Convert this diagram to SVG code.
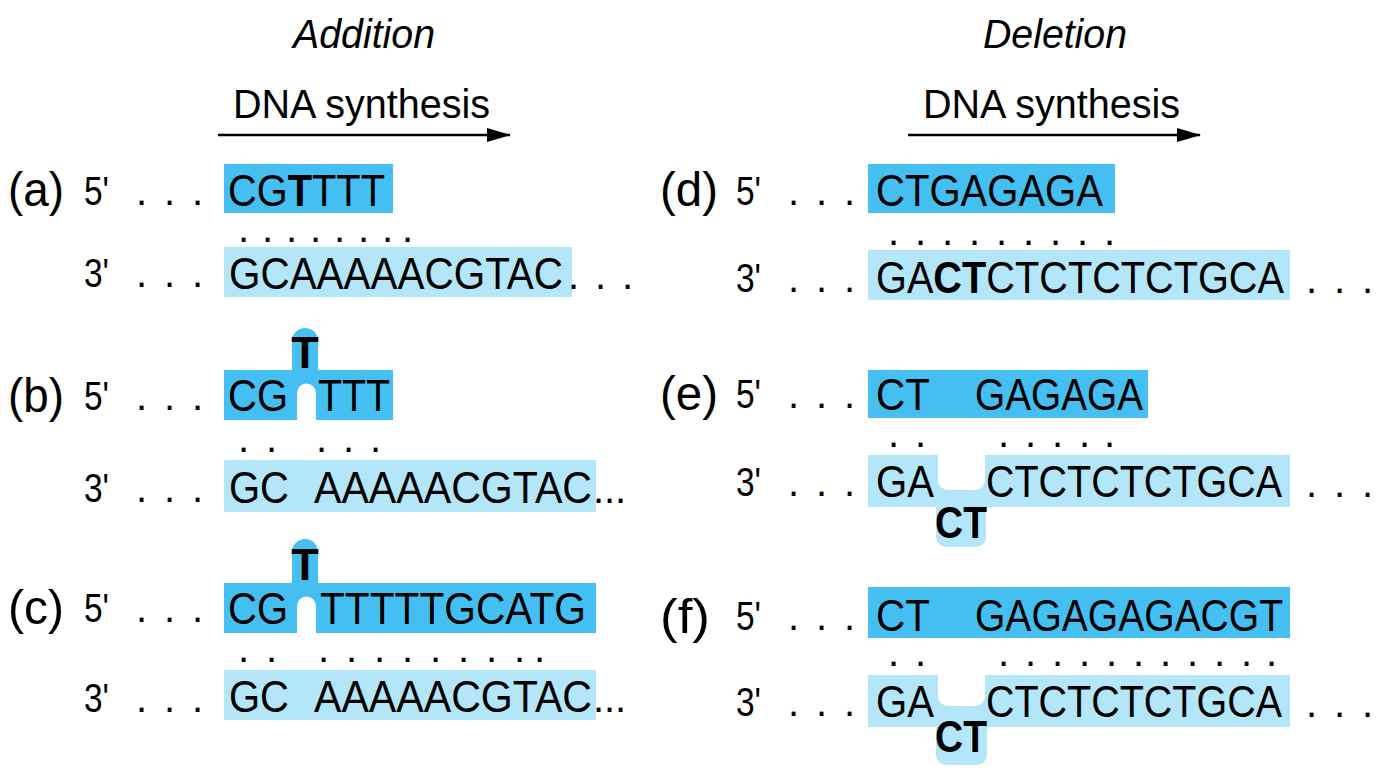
<svg xmlns="http://www.w3.org/2000/svg" width="1400" height="784" viewBox="0 0 1400 784">
<defs>
<style>
text{font-family:"Liberation Sans",Arial,sans-serif;fill:#000}
.s{font-size:45px}
.l{font-size:48px}
.p{font-size:40px}
.t{font-size:40px;font-style:italic}
.h{font-size:40px}
.b{font-weight:bold}
.dk{fill:#45BEF1}
.lt{fill:#B4E6FA}
.ar{stroke:#000;stroke-width:2.5;fill:none}
</style>
<marker id="ah" markerWidth="24" markerHeight="14" refX="23" refY="7" orient="auto" markerUnits="userSpaceOnUse" viewBox="0 0 24 14"><path d="M0,0 L24,7 L0,14 z" fill="#000"/></marker>
</defs>
<text class="t" x="293" y="48" textLength="142" lengthAdjust="spacingAndGlyphs">Addition</text>
<text class="t" x="983" y="48" textLength="144" lengthAdjust="spacingAndGlyphs">Deletion</text>
<text class="h" x="233" y="118" textLength="257" lengthAdjust="spacingAndGlyphs">DNA synthesis</text>
<text class="h" x="923" y="118" textLength="257" lengthAdjust="spacingAndGlyphs">DNA synthesis</text>
<g id="connectors">
<line class="ar" x1="218" y1="135" x2="510" y2="135" marker-end="url(#ah)"/>
<line class="ar" x1="908" y1="135" x2="1200" y2="135" marker-end="url(#ah)"/>
</g>
<g id="a">
<text class="l" x="8" y="206" textLength="56" lengthAdjust="spacingAndGlyphs">(a)</text>
<text class="p" x="84" y="205" textLength="25" lengthAdjust="spacingAndGlyphs">5'</text>
<text class="p" x="136 164 192" y="205">...</text>
<rect class="dk" x="224" y="164" width="169" height="49"/>
<text class="s" x="228" y="206" textLength="157" lengthAdjust="spacingAndGlyphs">CG<tspan class="b">T</tspan>TTT</text>
<text class="p" x="238 262 286 310 334 358 382 402" y="242">........</text>
<text class="p" x="84" y="287" textLength="25" lengthAdjust="spacingAndGlyphs">3'</text>
<text class="p" x="136 164 192" y="287">...</text>
<rect class="lt" x="224" y="247" width="348" height="50"/>
<text class="s" x="229" y="289" textLength="334" lengthAdjust="spacingAndGlyphs">GCAAAAACGTAC</text>
<text class="p" x="568 595 622" y="289">...</text>
</g>
<g id="b">
<text class="l" x="8" y="412" textLength="56" lengthAdjust="spacingAndGlyphs">(b)</text>
<text class="p" x="84" y="410" textLength="25" lengthAdjust="spacingAndGlyphs">5'</text>
<text class="p" x="136 164 192" y="410">...</text>
<path class="dk" d="M224,370 H292 V341 A13,13 0 0 1 318,341 V370 H393 V420 H316 V393 A9.5,9.5 0 0 0 297,393 V420 H224 Z"/>
<text class="s" x="228" y="411" textLength="60" lengthAdjust="spacingAndGlyphs">CG</text>
<text class="s b" x="305" y="368" text-anchor="middle">T</text>
<text class="s" x="318" y="411" textLength="72" lengthAdjust="spacingAndGlyphs">TTT</text>
<text class="p" x="238 266 316 343 370" y="452">.....</text>
<text class="p" x="84" y="502" textLength="25" lengthAdjust="spacingAndGlyphs">3'</text>
<text class="p" x="136 164 192" y="502">...</text>
<rect class="lt" x="224" y="460" width="372" height="52"/>
<text class="s" x="229" y="503" textLength="60" lengthAdjust="spacingAndGlyphs">GC</text>
<text class="s" x="314" y="503" textLength="278" lengthAdjust="spacingAndGlyphs">AAAAACGTAC</text>
<text class="p" x="593 604 615" y="503">...</text>
</g>
<g id="c">
<text class="l" x="8" y="624" textLength="56" lengthAdjust="spacingAndGlyphs">(c)</text>
<text class="p" x="84" y="622" textLength="25" lengthAdjust="spacingAndGlyphs">5'</text>
<text class="p" x="136 164 192" y="622">...</text>
<path class="dk" d="M224,583 H292 V552 A13,13 0 0 1 318,552 V583 H596 V633 H316 V606 A9.5,9.5 0 0 0 297,606 V633 H224 Z"/>
<text class="s" x="228" y="624" textLength="60" lengthAdjust="spacingAndGlyphs">CG</text>
<text class="s b" x="305" y="580" text-anchor="middle">T</text>
<text class="s" x="320" y="624" textLength="266" lengthAdjust="spacingAndGlyphs">TTTTTGCATG</text>
<text class="p" x="238 266 318 346 374 402 430 458 486 514 534" y="662">...........</text>
<text class="p" x="84" y="712" textLength="25" lengthAdjust="spacingAndGlyphs">3'</text>
<text class="p" x="136 164 192" y="712">...</text>
<rect class="lt" x="224" y="670" width="372" height="50"/>
<text class="s" x="229" y="712" textLength="60" lengthAdjust="spacingAndGlyphs">GC</text>
<text class="s" x="314" y="712" textLength="278" lengthAdjust="spacingAndGlyphs">AAAAACGTAC</text>
<text class="p" x="593 604 615" y="712">...</text>
</g>
<g id="d">
<text class="l" x="660" y="206" textLength="58" lengthAdjust="spacingAndGlyphs">(d)</text>
<text class="p" x="736" y="205" textLength="25" lengthAdjust="spacingAndGlyphs">5'</text>
<text class="p" x="788 816 844" y="205">...</text>
<rect class="dk" x="868" y="164" width="247" height="49"/>
<text class="s" x="876" y="206" textLength="227" lengthAdjust="spacingAndGlyphs">CTGAGAGA</text>
<text class="p" x="888 915 942 969 996 1023 1050 1077 1104" y="245">.........</text>
<text class="p" x="736" y="292" textLength="25" lengthAdjust="spacingAndGlyphs">3'</text>
<text class="p" x="788 816 844" y="292">...</text>
<rect class="lt" x="868" y="250" width="422" height="50"/>
<text class="s" x="876" y="293" textLength="408" lengthAdjust="spacingAndGlyphs">GA<tspan class="b">CT</tspan>CTCTCTCTGCA</text>
<text class="p" x="1306 1334 1362" y="293">...</text>
</g>
<g id="e">
<text class="l" x="660" y="410" textLength="58" lengthAdjust="spacingAndGlyphs">(e)</text>
<text class="p" x="736" y="408" textLength="25" lengthAdjust="spacingAndGlyphs">5'</text>
<text class="p" x="788 816 844" y="408">...</text>
<rect class="dk" x="868" y="370" width="280" height="48"/>
<text class="s" x="876" y="410" textLength="54" lengthAdjust="spacingAndGlyphs">CT</text>
<text class="s" x="975" y="410" textLength="168" lengthAdjust="spacingAndGlyphs">GAGAGA</text>
<text class="p" x="888 915 998 1025 1052 1079 1104" y="447">.......</text>
<text class="p" x="736" y="496" textLength="25" lengthAdjust="spacingAndGlyphs">3'</text>
<text class="p" x="788 816 844" y="496">...</text>
<path class="lt" d="M868,455 H938 V480 A10,10 0 0 0 948,490 H975 A10,10 0 0 0 985,480 V455 H1290 V507 H986 V537 A10,10 0 0 1 976,547 H946 A10,10 0 0 1 936,537 V507 H868 Z"/>
<text class="s" x="876" y="497" textLength="58" lengthAdjust="spacingAndGlyphs">GA</text>
<text class="s b" x="961" y="538" text-anchor="middle" textLength="52" lengthAdjust="spacingAndGlyphs">CT</text>
<text class="s" x="986" y="497" textLength="296" lengthAdjust="spacingAndGlyphs">CTCTCTCTGCA</text>
<text class="p" x="1306 1334 1362" y="497">...</text>
</g>
<g id="f">
<text class="l" x="660" y="633" textLength="50" lengthAdjust="spacingAndGlyphs">(f)</text>
<text class="p" x="736" y="630" textLength="25" lengthAdjust="spacingAndGlyphs">5'</text>
<text class="p" x="788 816 844" y="630">...</text>
<rect class="dk" x="868" y="587" width="422" height="51"/>
<text class="s" x="876" y="631" textLength="54" lengthAdjust="spacingAndGlyphs">CT</text>
<text class="s" x="975" y="631" textLength="308" lengthAdjust="spacingAndGlyphs">GAGAGAGACGT</text>
<text class="p" x="888 915 998 1025 1052 1079 1106 1133 1160 1187 1214 1241 1266" y="666">.............</text>
<text class="p" x="736" y="716" textLength="25" lengthAdjust="spacingAndGlyphs">3'</text>
<text class="p" x="788 816 844" y="716">...</text>
<path class="lt" d="M868,675 H938 V696 A10,10 0 0 0 948,706 H975 A10,10 0 0 0 985,696 V675 H1290 V727 H987 V755 A10,10 0 0 1 977,765 H946 A10,10 0 0 1 936,755 V727 H868 Z"/>
<text class="s" x="876" y="717" textLength="58" lengthAdjust="spacingAndGlyphs">GA</text>
<text class="s b" x="961" y="752" text-anchor="middle" textLength="52" lengthAdjust="spacingAndGlyphs">CT</text>
<text class="s" x="986" y="717" textLength="296" lengthAdjust="spacingAndGlyphs">CTCTCTCTGCA</text>
<text class="p" x="1306 1334 1362" y="717">...</text>
</g>
</svg>
